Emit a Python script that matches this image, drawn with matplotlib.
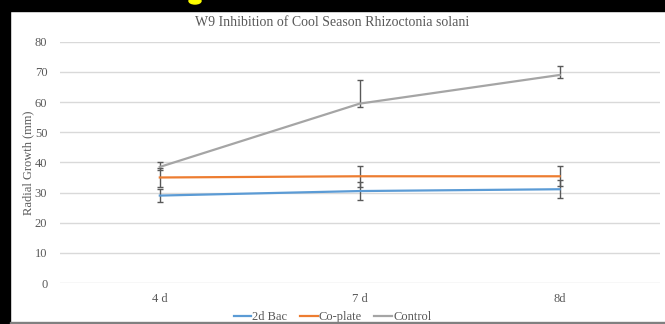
import matplotlib
matplotlib.use('Agg')
import matplotlib.pyplot as plt
from matplotlib.patches import Rectangle, Ellipse
from matplotlib.lines import Line2D

# data
days = ['4 d', '7 d', '8d']
bac = [29.0, 30.5, 31.1]
bac_err = [2.1, 3.0, 2.9]
coplate = [35.0, 35.4, 35.4]
coplate_err = [3.3, 3.4, 3.3]
control = [38.5, 59.5, 69.0]
control_lo = [1.0, 1.1, 1.0]
control_hi = [1.7, 7.8, 2.9]

plt.rcParams['font.family'] = ['Liberation Serif', 'DejaVu Serif']

fig = plt.figure(figsize=(6.65, 3.24), dpi=100)
ax = fig.add_axes([0.090, 0.1265, 0.902, 0.7445])

x = list(range(len(days)))
ebar = dict(ecolor='#595959', elinewidth=1.0, capsize=2, capthick=1.0)
ax.errorbar(x, bac, yerr=bac_err, color='#5B9BD5', lw=1.6, label='2d Bac', zorder=3, **ebar)
ax.errorbar(x, coplate, yerr=coplate_err, color='#ED7D31', lw=1.6, label='Co-plate', zorder=3, **ebar)
ax.errorbar(x, control, yerr=[control_lo, control_hi], color='#A5A5A5', lw=1.6, label='Control', zorder=3, **ebar)

ax.set_xlim(-0.5, 2.5)
ax.set_ylim(0, 80)
ax.set_yticks(range(0, 81, 10))
ax.set_xticks(x)
ax.set_xticklabels(days)
ax.grid(axis='y', color='#D9D9D9', lw=1.0)
ax.set_axisbelow(True)
for s in ax.spines.values():
    s.set_visible(False)
ax.tick_params(length=0, labelsize=9, colors='#595959', pad=9)
ax.tick_params(axis='x', pad=7)
ax.set_ylabel('Radial Growth (mm)', fontsize=9, color='#595959', labelpad=0)
fig.text(0.5, 1 - 23 / 324, 'W9 Inhibition of Cool Season Rhizoctonia solani', fontsize=10,
         color='#595959', ha='center', va='center')

handles = [Line2D([], [], color=c, lw=1.6) for c in ['#5B9BD5', '#ED7D31', '#A5A5A5']]
leg = fig.legend(handles, ['2d Bac', 'Co-plate', 'Control'], loc='center', bbox_to_anchor=(0.5, 0.021),
                 ncol=3, frameon=False, fontsize=9, handlelength=1.4, handletextpad=0.1, columnspacing=1.0)
for t in leg.get_texts():
    t.set_color('#595959')

# black frame bits of the screenshot
fig.patches.append(Rectangle((0, 0), 10 / 665, 1, transform=fig.transFigure, color='black', zorder=10))
fig.patches.append(Rectangle((0, 1 - 11 / 324), 1, 11 / 324, transform=fig.transFigure, color='black', zorder=10))
fig.patches.append(Rectangle((10 / 665, 0), 1, 2 / 324, transform=fig.transFigure, color='#808080', zorder=10))
fig.patches.append(Ellipse((195 / 665, 1 - 1 / 324), 12 / 665, 6 / 324, transform=fig.transFigure,
                           color='#FFFF00', zorder=11))

fig.savefig('out.png', dpi=100)
